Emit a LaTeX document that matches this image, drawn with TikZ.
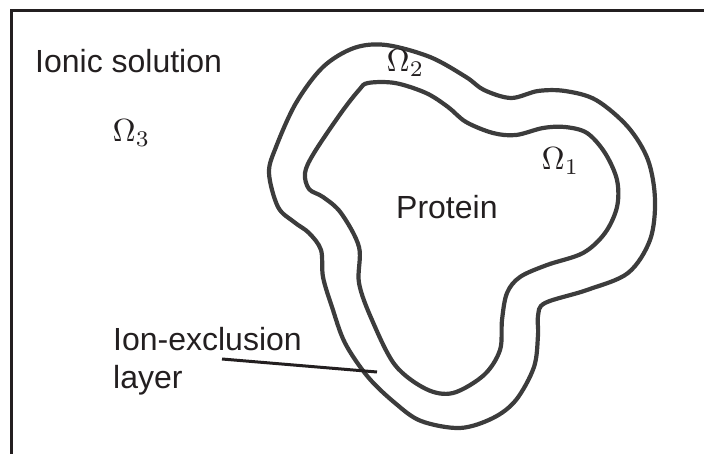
\documentclass[tikz,border=0pt]{standalone}
\usepackage{fontspec}
\setmainfont{Liberation Sans}
\definecolor{ink}{HTML}{231F20}
\definecolor{curve}{HTML}{3C3C3C}
\begin{document}
\begin{tikzpicture}[x=1pt,y=-1pt,
  lbl/.style={anchor=base west,inner sep=0pt,text=ink,font=\fontsize{32}{38}\selectfont},
  omega/.style={anchor=base west,inner sep=0pt,text=ink,scale=3.2},
  boundary/.style={draw=curve,line width=4.2pt},
  frameline/.style={draw=ink,line width=3pt},
  leader/.style={draw=ink,line width=3pt}]
\useasboundingbox (0,0) rectangle (704,454);
% frame (clipped at bottom and right)
\coordinate (fbl) at (11,460);
\coordinate (ftl) at (11,11);
\coordinate (ftr) at (710,11);
\draw[frameline] (fbl) -- (ftl) -- (ftr);
% outer boundary (ion-exclusion layer)
\draw[boundary] plot[smooth cycle,tension=0.55] coordinates {
 (386,45) (430,57) (466,77) (484,90) (511,98) (538,91) (565,91) (596,100)
 (628,127) (648,160) (655,200) (650,240) (628,273) (587,290) (545,303)
 (538,316) (538,335) (534,367) (516,400) (493,418) (460,428) (421,421)
 (395,403) (368,377) (345,343) (332,307) (323,277) (321,250) (309,233)
 (294,222) (278,207) (269,173) (276,147) (296,103) (323,67) (354,48)};
% inner boundary (protein)
\draw[boundary] plot[smooth cycle,tension=0.55] coordinates {
 (368,83) (395,83) (426,93) (448,107) (466,122) (493,133) (516,135)
 (543,128) (565,127) (587,133) (605,153) (617,180) (617,207) (605,233)
 (583,253) (547,265) (520,277) (507,293) (502,320) (500,350) (484,375)
 (453,393) (426,389) (395,365) (372,320) (359,283) (359,247) (341,213)
 (323,197) (309,189) (305,173) (314,153) (341,113) (359,90)};
% labels
\node[lbl] (ionic) at (35,73) {Ionic solution};
\node[omega] (o3) at (112,142) {$\Omega_3$};
\node[omega] (o2) at (386,72) {$\Omega_2$};
\node[omega] (o1) at (541,170) {$\Omega_1$};
\node[lbl] (prot) at (396,219) {Protein};
\node[lbl] (ionex) at (113,350) {Ion-exclusion};
\node[lbl] (layer) at (113,388) {layer};
\coordinate (ls) at (222,359);
\coordinate (le) at (377,372);
\draw[leader] (ls) -- (le);
\end{tikzpicture}
\end{document}
